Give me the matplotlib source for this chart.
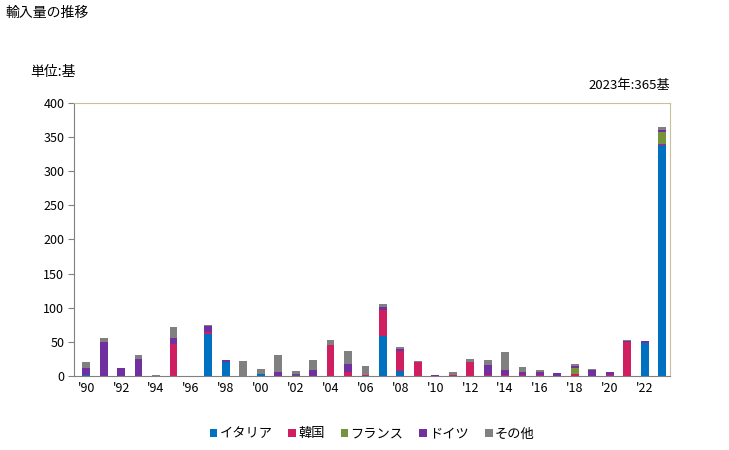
import matplotlib
matplotlib.use("Agg")
import matplotlib.pyplot as plt
import numpy as np

plt.rcParams["font.family"] = ["Noto Sans CJK JP", "DejaVu Sans"]

# ── Data (units: 基) ──────────────────────────────────────────────
years = list(range(1990, 2024))

italy = [1, 0, 0, 0, 0, 0, 0, 62, 21, 0,
         3, 0, 1, 0, 0, 0, 0, 59, 7, 0,
         0, 0, 0, 0, 0, 0, 0, 0, 0, 0,
         0, 0, 48, 338]
korea = [0, 0, 0, 0, 0, 47, 0, 3, 0, 0,
         0, 0, 2, 0, 45, 6, 2, 38, 30, 20,
         0, 1, 20, 1, 1, 1, 1, 0, 3, 0,
         1, 50, 0, 2]
france = [0, 0, 0, 0, 0, 0, 0, 0, 0, 0,
          0, 0, 0, 0, 0, 0, 0, 0, 0, 0,
          0, 0, 0, 0, 0, 0, 0, 0, 9, 0,
          0, 0, 0, 18]
germany = [11, 50, 12, 25, 0, 9, 0, 8, 2, 0,
           0, 6, 0, 9, 0, 12, 0, 4, 3, 0,
           2, 0, 0, 15, 8, 5, 5, 4, 3, 9,
           5, 1, 3, 3]
other = [9, 6, 0, 6, 2, 16, 0, 2, 1, 22,
         7, 25, 4, 14, 8, 19, 13, 5, 3, 2,
         0, 5, 5, 7, 26, 7, 3, 0, 3, 1,
         0, 2, 0, 4]

series = [
    ("イタリア", italy, "#0070c0"),
    ("韓国", korea, "#d01f60"),
    ("フランス", france, "#77933c"),
    ("ドイツ", germany, "#7030a0"),
    ("その他", other, "#808080"),
]

tick_years = list(range(1990, 2024, 2))
tick_labels = ["'%02d" % (y % 100) for y in tick_years]

# ── Plot ──────────────────────────────────────────────────────────
fig = plt.figure(figsize=(7.29, 4.5), dpi=100)
ax = fig.add_axes([0.1015, 0.1644, 0.8175, 0.6068])

bottom = np.zeros(len(years))
for name, vals, color in series:
    ax.bar(years, vals, width=0.45, bottom=bottom, color=color, label=name)
    bottom += np.array(vals)

ax.set_xlim(1989.3, 2023.45)
ax.set_ylim(0, 400)
ax.set_yticks(range(0, 401, 50))
ax.set_xticks(tick_years)
ax.set_xticklabels(tick_labels)
ax.tick_params(axis="x", length=0, labelsize=9, pad=4)
ax.tick_params(axis="y", length=4, labelsize=9, color="#808080", pad=3)

for s in ["left", "bottom"]:
    ax.spines[s].set_color("#808080")
for s in ["top", "right"]:
    ax.spines[s].set_color("#c8c09a")

fig.text(0.007, 0.972, "輸入量の推移", fontsize=10, va="center", ha="left")
fig.text(0.041, 0.84, "単位:基", fontsize=10, va="center", ha="left")
fig.text(0.919, 0.81, "2023年:365基", fontsize=9.5, va="center", ha="right")

ax.legend(loc="upper center", bbox_to_anchor=(0.5, -0.145), ncol=5,
          frameon=False, fontsize=9.5, handlelength=0.6, handleheight=0.6,
          handletextpad=0.15, columnspacing=1.2)

plt.savefig("out.png", dpi=100)
plt.close()
